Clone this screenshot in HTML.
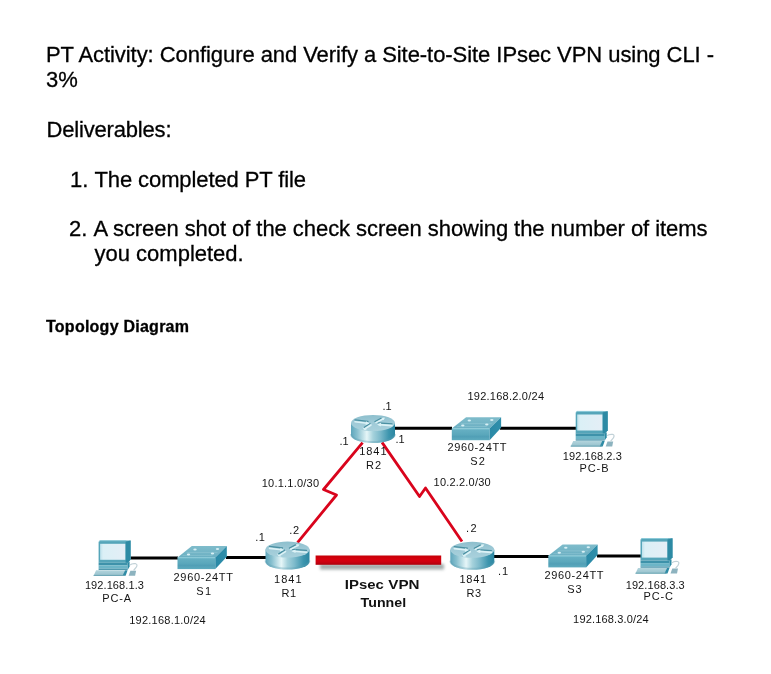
<!DOCTYPE html>
<html><head><meta charset="utf-8"><title>PT Activity: Configure and Verify a Site-to-Site IPsec VPN using CLI</title>
<style>
html,body{margin:0;padding:0;background:#fff;}
body{width:771px;height:674px;overflow:hidden;position:relative;font-family:'Liberation Sans', sans-serif;}
svg{position:absolute;left:0;top:0;will-change:transform;}
svg text{font-family:'Liberation Sans', sans-serif;}
</style></head><body>
<svg width="771" height="674" viewBox="0 0 771 674">
<defs>
<linearGradient id="rside" x1="0" x2="1" y1="0" y2="0">
 <stop offset="0" stop-color="#5ea6bc"/><stop offset="0.14" stop-color="#88c0cf"/>
 <stop offset="0.36" stop-color="#e6f6f8"/><stop offset="0.5" stop-color="#a6d2dc"/>
 <stop offset="0.66" stop-color="#7dbacb"/><stop offset="0.86" stop-color="#3d95ae"/><stop offset="1" stop-color="#2a86a1"/>
</linearGradient>
<linearGradient id="rtop" x1="0" x2="0" y1="0" y2="1">
 <stop offset="0" stop-color="#8dbfcd"/><stop offset="0.5" stop-color="#9fcad7"/><stop offset="1" stop-color="#a9d1dc"/>
</linearGradient>
<linearGradient id="stop" x1="0" x2="0" y1="0" y2="1">
 <stop offset="0" stop-color="#7fbccb"/><stop offset="1" stop-color="#6aafc2"/>
</linearGradient>
<linearGradient id="sfront" x1="0" x2="0" y1="0" y2="1">
 <stop offset="0" stop-color="#68b1c4"/><stop offset="0.5" stop-color="#5ba8bc"/>
 <stop offset="0.7" stop-color="#519fb6"/><stop offset="1" stop-color="#5eabbe"/>
</linearGradient>
<linearGradient id="sright" x1="0" x2="1" y1="0" y2="0">
 <stop offset="0" stop-color="#2a89a6"/><stop offset="1" stop-color="#2f8fab"/>
</linearGradient>
<linearGradient id="screen" x1="0" x2="1" y1="0" y2="0">
 <stop offset="0" stop-color="#bfe2ec"/><stop offset="0.12" stop-color="#dbf0f6"/><stop offset="1" stop-color="#e4eef6"/>
</linearGradient>
<linearGradient id="kbd" x1="0" x2="0" y1="0" y2="1">
 <stop offset="0" stop-color="#b3d4dc"/><stop offset="1" stop-color="#95c0cc"/>
</linearGradient>
<linearGradient id="tun" x1="0" x2="0" y1="0" y2="1">
 <stop offset="0" stop-color="#c40008"/><stop offset="0.4" stop-color="#d8000e"/><stop offset="0.7" stop-color="#cc0010"/><stop offset="1" stop-color="#aa000c"/>
</linearGradient>
<filter id="blur1" x="-10%" y="-100%" width="120%" height="300%"><feGaussianBlur stdDeviation="1.4"/></filter>
</defs>
<g stroke="#000" stroke-width="0.3"><text x="46" y="62" font-size="22" font-weight="400" fill="#000" text-anchor="start" textLength="668" lengthAdjust="spacing">PT Activity: Configure and Verify a Site-to-Site IPsec VPN using CLI -</text><text x="46" y="87.3" font-size="22" font-weight="400" fill="#000" text-anchor="start">3%</text><text x="46.5" y="137" font-size="22" font-weight="400" fill="#000" text-anchor="start" textLength="125" lengthAdjust="spacing">Deliverables:</text><text x="70" y="187" font-size="22" font-weight="400" fill="#000" text-anchor="start">1.</text><text x="94.5" y="187" font-size="22" font-weight="400" fill="#000" text-anchor="start" textLength="211.5" lengthAdjust="spacing">The completed PT file</text><text x="69" y="236" font-size="22" font-weight="400" fill="#000" text-anchor="start">2.</text><text x="93.5" y="236" font-size="22" font-weight="400" fill="#000" text-anchor="start" textLength="614" lengthAdjust="spacing">A screen shot of the check screen showing the number of items</text><text x="94.5" y="261.3" font-size="22" font-weight="400" fill="#000" text-anchor="start">you completed.</text><text x="46" y="332" font-size="16" font-weight="700" fill="#000" text-anchor="start" textLength="143" lengthAdjust="spacing">Topology Diagram</text></g>
<g><line x1="130.5" y1="558" x2="178" y2="558" stroke="#000" stroke-width="3"/><line x1="226" y1="557.5" x2="267" y2="557.5" stroke="#000" stroke-width="3"/><line x1="494" y1="556.5" x2="549" y2="556.5" stroke="#000" stroke-width="3"/><line x1="597" y1="556" x2="641" y2="556" stroke="#000" stroke-width="3"/><line x1="394" y1="428.3" x2="452" y2="428.3" stroke="#000" stroke-width="3"/><line x1="500" y1="428.3" x2="576" y2="428.3" stroke="#000" stroke-width="3"/><polyline points="362.6,442.6 323.5,489.5 336.5,495 297.5,542.6" fill="none" stroke="#d9041c" stroke-width="2.8" stroke-linejoin="round"/><polyline points="382,442.4 419.5,496.5 425.5,488 462,541.5" fill="none" stroke="#d9041c" stroke-width="2.8" stroke-linejoin="round"/><rect x="320" y="564" width="124" height="5.5" fill="#7a8888" opacity="0.7" filter="url(#blur1)"/><rect x="315.6" y="555.5" width="125.6" height="9.3" fill="url(#tun)"/><path d="M351,423 L351,435 A22.0,8 0 0 0 395,435 L395,423 Z" fill="url(#rside)"/><path d="M351,434 A22.0,8 0 0 0 395,434" fill="none" stroke="#5d9fb3" stroke-opacity="0.35" stroke-width="2"/><ellipse cx="373.0" cy="423" rx="22.0" ry="8" fill="url(#rtop)"/><g fill="none" stroke-linecap="round" stroke-linejoin="round"><path d="M355.0,419.8 L368.0,421.4 M370.0,423.5 L364.0,427.5 M375.0,421.5 L382.0,417.8 M392.0,423.8 L378.0,422.8" stroke="#4a90a2" stroke-width="1.3"/><path d="M355.0,421.8 L367.0,423.2 M371.0,425 L365.0,428.8 M376.0,422.6 L383.0,419 M392.0,425.6 L379.0,424.6" stroke="#dcf2f6" stroke-width="1.6"/></g><polygon points="366.0,421.2 369.5,423.5 365.5,425.2" fill="#dcf2f6"/><polygon points="381.0,422.8 377.0,424.6 381.0,426.4" fill="#dcf2f6"/><polygon points="362.5,427 364.0,430 367.0,429.8" fill="#dcf2f6"/><polygon points="381.0,417.4 385.0,417.8 383.5,420.2" fill="#dcf2f6"/><path d="M265.5,549.6 L265.5,561.6 A22.0,8 0 0 0 309.5,561.6 L309.5,549.6 Z" fill="url(#rside)"/><path d="M265.5,560.6 A22.0,8 0 0 0 309.5,560.6" fill="none" stroke="#5d9fb3" stroke-opacity="0.35" stroke-width="2"/><ellipse cx="287.5" cy="549.6" rx="22.0" ry="8" fill="url(#rtop)"/><g fill="none" stroke-linecap="round" stroke-linejoin="round"><path d="M269.5,546.4 L282.5,548.0 M284.5,550.1 L278.5,554.1 M289.5,548.1 L296.5,544.4 M306.5,550.4 L292.5,549.4" stroke="#4a90a2" stroke-width="1.3"/><path d="M269.5,548.4 L281.5,549.8000000000001 M285.5,551.6 L279.5,555.4 M290.5,549.2 L297.5,545.6 M306.5,552.2 L293.5,551.2" stroke="#dcf2f6" stroke-width="1.6"/></g><polygon points="280.5,547.8000000000001 284.0,550.1 280.0,551.8000000000001" fill="#dcf2f6"/><polygon points="295.5,549.4 291.5,551.2 295.5,553.0" fill="#dcf2f6"/><polygon points="277.0,553.6 278.5,556.6 281.5,556.4" fill="#dcf2f6"/><polygon points="295.5,544.0 299.5,544.4 298.0,546.8000000000001" fill="#dcf2f6"/><path d="M450.3,549.8 L450.3,561.8 A22.0,8 0 0 0 494.3,561.8 L494.3,549.8 Z" fill="url(#rside)"/><path d="M450.3,560.8 A22.0,8 0 0 0 494.3,560.8" fill="none" stroke="#5d9fb3" stroke-opacity="0.35" stroke-width="2"/><ellipse cx="472.3" cy="549.8" rx="22.0" ry="8" fill="url(#rtop)"/><g fill="none" stroke-linecap="round" stroke-linejoin="round"><path d="M454.3,546.5999999999999 L467.3,548.1999999999999 M469.3,550.3 L463.3,554.3 M474.3,548.3 L481.3,544.5999999999999 M491.3,550.5999999999999 L477.3,549.5999999999999" stroke="#4a90a2" stroke-width="1.3"/><path d="M454.3,548.5999999999999 L466.3,550.0 M470.3,551.8 L464.3,555.5999999999999 M475.3,549.4 L482.3,545.8 M491.3,552.4 L478.3,551.4" stroke="#dcf2f6" stroke-width="1.6"/></g><polygon points="465.3,548.0 468.8,550.3 464.8,552.0" fill="#dcf2f6"/><polygon points="480.3,549.5999999999999 476.3,551.4 480.3,553.1999999999999" fill="#dcf2f6"/><polygon points="461.8,553.8 463.3,556.8 466.3,556.5999999999999" fill="#dcf2f6"/><polygon points="480.3,544.1999999999999 484.3,544.5999999999999 482.8,547.0" fill="#dcf2f6"/><polygon points="451.8,428.5 466.1,417.2 501.1,417.2 489.6,428.5" fill="url(#stop)"/><path d="M460.8,423.7 L491.8,423.7 M456.8,426.5 L486.8,426.5" stroke="#9fd0dc" stroke-opacity="0.5" stroke-width="0.8"/><rect x="451.8" y="428.5" width="37.80000000000001" height="11.699999999999989" fill="url(#sfront)"/><line x1="451.8" y1="428.9" x2="489.6" y2="428.9" stroke="#8fd0de" stroke-width="0.8"/><polygon points="489.6,428.5 501.1,417.2 501.1,427.8 489.6,440.2" fill="url(#sright)"/><ellipse cx="469.3" cy="420.5" rx="1.7" ry="1" fill="#d8f0f5"/><ellipse cx="491.8" cy="420.0" rx="1.7" ry="1" fill="#d8f0f5"/><ellipse cx="462.8" cy="425.5" rx="1.7" ry="1" fill="#d8f0f5"/><ellipse cx="486.8" cy="424.5" rx="1.7" ry="1" fill="#d8f0f5"/><polygon points="177.5,557.4 191.8,546.1 226.8,546.1 215.3,557.4" fill="url(#stop)"/><path d="M186.5,552.6 L217.5,552.6 M182.5,555.4 L212.5,555.4" stroke="#9fd0dc" stroke-opacity="0.5" stroke-width="0.8"/><rect x="177.5" y="557.4" width="37.80000000000001" height="11.700000000000045" fill="url(#sfront)"/><line x1="177.5" y1="557.8" x2="215.3" y2="557.8" stroke="#8fd0de" stroke-width="0.8"/><polygon points="215.3,557.4 226.8,546.1 226.8,556.7 215.3,569.1" fill="url(#sright)"/><ellipse cx="195.0" cy="549.4" rx="1.7" ry="1" fill="#d8f0f5"/><ellipse cx="217.5" cy="548.9" rx="1.7" ry="1" fill="#d8f0f5"/><ellipse cx="188.5" cy="554.4" rx="1.7" ry="1" fill="#d8f0f5"/><ellipse cx="212.5" cy="553.4" rx="1.7" ry="1" fill="#d8f0f5"/><polygon points="548.3,555.6999999999999 562.5999999999999,544.4 597.5999999999999,544.4 586.0999999999999,555.6999999999999" fill="url(#stop)"/><path d="M557.3,550.9 L588.3,550.9 M553.3,553.6999999999999 L583.3,553.6999999999999" stroke="#9fd0dc" stroke-opacity="0.5" stroke-width="0.8"/><rect x="548.3" y="555.6999999999999" width="37.799999999999955" height="11.700000000000045" fill="url(#sfront)"/><line x1="548.3" y1="556.0999999999999" x2="586.0999999999999" y2="556.0999999999999" stroke="#8fd0de" stroke-width="0.8"/><polygon points="586.0999999999999,555.6999999999999 597.5999999999999,544.4 597.5999999999999,555.0 586.0999999999999,567.4" fill="url(#sright)"/><ellipse cx="565.8" cy="547.6999999999999" rx="1.7" ry="1" fill="#d8f0f5"/><ellipse cx="588.3" cy="547.1999999999999" rx="1.7" ry="1" fill="#d8f0f5"/><ellipse cx="559.3" cy="552.6999999999999" rx="1.7" ry="1" fill="#d8f0f5"/><ellipse cx="583.3" cy="551.6999999999999" rx="1.7" ry="1" fill="#d8f0f5"/><path d="M575.7,412.4 L577.2,411.2 L607.7,411.2 L607.7,430.2 L605.2,433.4 L575.7,433.4 Z" fill="#55a5b9"/><path d="M576.2,412.0 L577.3000000000001,411.4 L603.2,411.4" stroke="#8ccad8" stroke-width="1" fill="none"/><polygon points="602.7,412.4 607.7,411.2 607.7,430.2 604.9000000000001,433.4 602.7,433.4" fill="#2d8aa4"/><rect x="577.2" y="414.5" width="25.2" height="16" fill="url(#screen)"/><rect x="575.7" y="433.4" width="29" height="2.6" fill="#3e92aa"/><rect x="575.7" y="436.0" width="29" height="3.4" fill="#6cb5c7"/><rect x="575.7" y="439.4" width="29" height="1.2" fill="#3e8ea6"/><polygon points="604.7,433.4 606.7,432.2 606.7,437.2 604.7,440.59999999999997" fill="#2d8aa4"/><polygon points="570.7,446.5 573.2,441.0 602.2,441.0 601.2,446.5" fill="url(#kbd)"/><polygon points="599.7,446.5 602.2,441.0 604.7,441.0 602.7,446.5" fill="#2f8ba5"/><rect x="570.7" y="445.59999999999997" width="31" height="1" fill="#6aa5b4"/><path d="M605.7,446.5 L607.5,441.4 L613.2,441.4 L612.2,446.5 Z" fill="#8db3bf"/><path d="M607.2,435.7 Q608.7,434.0 612.7,434.4 Q615.2,435.2 613.2,438.2 L610.7,441.2" stroke="#c2d2d8" stroke-width="1.2" fill="none"/><path d="M98.6,541.7 L100.1,540.5 L130.6,540.5 L130.6,559.5 L128.1,562.7 L98.6,562.7 Z" fill="#55a5b9"/><path d="M99.1,541.3 L100.19999999999999,540.7 L126.1,540.7" stroke="#8ccad8" stroke-width="1" fill="none"/><polygon points="125.6,541.7 130.6,540.5 130.6,559.5 127.8,562.7 125.6,562.7" fill="#2d8aa4"/><rect x="100.1" y="543.8" width="25.2" height="16" fill="url(#screen)"/><rect x="98.6" y="562.7" width="29" height="2.6" fill="#3e92aa"/><rect x="98.6" y="565.3" width="29" height="3.4" fill="#6cb5c7"/><rect x="98.6" y="568.7" width="29" height="1.2" fill="#3e8ea6"/><polygon points="127.6,562.7 129.6,561.5 129.6,566.5 127.6,569.9" fill="#2d8aa4"/><polygon points="93.6,575.8 96.1,570.3 125.1,570.3 124.1,575.8" fill="url(#kbd)"/><polygon points="122.6,575.8 125.1,570.3 127.6,570.3 125.6,575.8" fill="#2f8ba5"/><rect x="93.6" y="574.9" width="31" height="1" fill="#6aa5b4"/><path d="M128.6,575.8 L130.4,570.7 L136.1,570.7 L135.1,575.8 Z" fill="#8db3bf"/><path d="M130.1,565.0 Q131.6,563.3 135.6,563.7 Q138.1,564.5 136.1,567.5 L133.6,570.5" stroke="#c2d2d8" stroke-width="1.2" fill="none"/><path d="M640.5,539.5 L642.0,538.3 L672.5,538.3 L672.5,557.3 L670.0,560.5 L640.5,560.5 Z" fill="#55a5b9"/><path d="M641.0,539.0999999999999 L642.1,538.5 L668.0,538.5" stroke="#8ccad8" stroke-width="1" fill="none"/><polygon points="667.5,539.5 672.5,538.3 672.5,557.3 669.7,560.5 667.5,560.5" fill="#2d8aa4"/><rect x="642.0" y="541.5999999999999" width="25.2" height="16" fill="url(#screen)"/><rect x="640.5" y="560.5" width="29" height="2.6" fill="#3e92aa"/><rect x="640.5" y="563.0999999999999" width="29" height="3.4" fill="#6cb5c7"/><rect x="640.5" y="566.5" width="29" height="1.2" fill="#3e8ea6"/><polygon points="669.5,560.5 671.5,559.3 671.5,564.3 669.5,567.6999999999999" fill="#2d8aa4"/><polygon points="635.5,573.5999999999999 638.0,568.0999999999999 667.0,568.0999999999999 666.0,573.5999999999999" fill="url(#kbd)"/><polygon points="664.5,573.5999999999999 667.0,568.0999999999999 669.5,568.0999999999999 667.5,573.5999999999999" fill="#2f8ba5"/><rect x="635.5" y="572.6999999999999" width="31" height="1" fill="#6aa5b4"/><path d="M670.5,573.5999999999999 L672.3,568.5 L678.0,568.5 L677.0,573.5999999999999 Z" fill="#8db3bf"/><path d="M672.0,562.8 Q673.5,561.0999999999999 677.5,561.5 Q680.0,562.3 678.0,565.3 L675.5,568.3" stroke="#c2d2d8" stroke-width="1.2" fill="none"/><text x="467.5" y="400" font-size="11" font-weight="400" fill="#141414" text-anchor="start" textLength="76.5" lengthAdjust="spacing">192.168.2.0/24</text><text x="382.5" y="410" font-size="11" font-weight="400" fill="#141414" text-anchor="start" textLength="9" lengthAdjust="spacing">.1</text><text x="339.5" y="444.5" font-size="11" font-weight="400" fill="#141414" text-anchor="start" textLength="9" lengthAdjust="spacing">.1</text><text x="395.5" y="442.5" font-size="11" font-weight="400" fill="#141414" text-anchor="start" textLength="9" lengthAdjust="spacing">.1</text><text x="359.2" y="455" font-size="11" font-weight="400" fill="#141414" text-anchor="start" textLength="27.3" lengthAdjust="spacing">1841</text><text x="366" y="469" font-size="11" font-weight="400" fill="#141414" text-anchor="start" textLength="15" lengthAdjust="spacing">R2</text><text x="447.5" y="451" font-size="11" font-weight="400" fill="#141414" text-anchor="start" textLength="59" lengthAdjust="spacing">2960-24TT</text><text x="470.3" y="465" font-size="11" font-weight="400" fill="#141414" text-anchor="start" textLength="14.5" lengthAdjust="spacing">S2</text><text x="562.8" y="460" font-size="11" font-weight="400" fill="#141414" text-anchor="start" textLength="59" lengthAdjust="spacing">192.168.2.3</text><text x="579.5" y="472" font-size="11" font-weight="400" fill="#141414" text-anchor="start" textLength="29" lengthAdjust="spacing">PC-B</text><text x="261.7" y="486.6" font-size="11" font-weight="400" fill="#141414" text-anchor="start" textLength="57.3" lengthAdjust="spacing">10.1.1.0/30</text><text x="433.6" y="486.1" font-size="11" font-weight="400" fill="#141414" text-anchor="start" textLength="57" lengthAdjust="spacing">10.2.2.0/30</text><text x="289.2" y="533.6" font-size="11" font-weight="400" fill="#141414" text-anchor="start" textLength="10" lengthAdjust="spacing">.2</text><text x="255.3" y="541.4" font-size="11" font-weight="400" fill="#141414" text-anchor="start" textLength="9.5" lengthAdjust="spacing">.1</text><text x="466.1" y="531.8" font-size="11" font-weight="400" fill="#141414" text-anchor="start" textLength="10.5" lengthAdjust="spacing">.2</text><text x="498.1" y="574.8" font-size="11" font-weight="400" fill="#141414" text-anchor="start" textLength="10" lengthAdjust="spacing">.1</text><text x="274.1" y="582.8" font-size="11" font-weight="400" fill="#141414" text-anchor="start" textLength="27.4" lengthAdjust="spacing">1841</text><text x="281.4" y="596.8" font-size="11" font-weight="400" fill="#141414" text-anchor="start" textLength="14.8" lengthAdjust="spacing">R1</text><text x="459.4" y="582.5" font-size="11" font-weight="400" fill="#141414" text-anchor="start" textLength="26.8" lengthAdjust="spacing">1841</text><text x="466.4" y="596.6" font-size="11" font-weight="400" fill="#141414" text-anchor="start" textLength="14.8" lengthAdjust="spacing">R3</text><text x="84.9" y="588.8" font-size="11" font-weight="400" fill="#141414" text-anchor="start" textLength="59" lengthAdjust="spacing">192.168.1.3</text><text x="102.2" y="602" font-size="11" font-weight="400" fill="#141414" text-anchor="start" textLength="29" lengthAdjust="spacing">PC-A</text><text x="173.5" y="580.9" font-size="11" font-weight="400" fill="#141414" text-anchor="start" textLength="59.5" lengthAdjust="spacing">2960-24TT</text><text x="196.2" y="595" font-size="11" font-weight="400" fill="#141414" text-anchor="start" textLength="15" lengthAdjust="spacing">S1</text><text x="129.2" y="623.8" font-size="11" font-weight="400" fill="#141414" text-anchor="start" textLength="76.5" lengthAdjust="spacing">192.168.1.0/24</text><text x="544.5" y="578.8" font-size="11" font-weight="400" fill="#141414" text-anchor="start" textLength="59" lengthAdjust="spacing">2960-24TT</text><text x="567.2" y="592.9" font-size="11" font-weight="400" fill="#141414" text-anchor="start" textLength="14.5" lengthAdjust="spacing">S3</text><text x="625.7" y="588.9" font-size="11" font-weight="400" fill="#141414" text-anchor="start" textLength="59" lengthAdjust="spacing">192.168.3.3</text><text x="643.5" y="599.6" font-size="11" font-weight="400" fill="#141414" text-anchor="start" textLength="29.5" lengthAdjust="spacing">PC-C</text><text x="573.1" y="623.3" font-size="11" font-weight="400" fill="#141414" text-anchor="start" textLength="75.5" lengthAdjust="spacing">192.168.3.0/24</text><text x="344.8" y="589" font-size="13" font-weight="700" fill="#111" text-anchor="start" textLength="39" lengthAdjust="spacingAndGlyphs">IPsec</text><text x="388.3" y="589" font-size="13" font-weight="700" fill="#111" text-anchor="start" textLength="31.2" lengthAdjust="spacingAndGlyphs">VPN</text><text x="360.6" y="607" font-size="13" font-weight="700" fill="#111" text-anchor="start" textLength="45.5" lengthAdjust="spacingAndGlyphs">Tunnel</text></g>
</svg>
</body></html>
